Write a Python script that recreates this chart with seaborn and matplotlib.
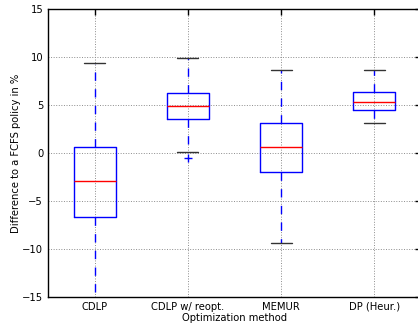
"""Box plot: difference to a FCFS policy per optimization method."""

import matplotlib

matplotlib.use("Agg")
import matplotlib.pyplot as plt
import pandas as pd
import seaborn as sns

METHODS = ["CDLP", "CDLP w/ reopt.", "MEMUR", "DP (Heur.)"]

# five-number summaries: low whisker, q1, median, q3, high whisker
CDLP = [-17.0, -6.7, -2.9, 0.6, 9.4]
CDLP_REOPT = [0.1, 3.5, 4.9, 6.3, 9.9]
MEMUR = [-9.4, -2.0, 0.6, 3.1, 8.6]
DP_HEUR = [3.1, 4.5, 5.3, 6.4, 8.6]

# outliers drawn as '+'
FLIER_METHODS = ["CDLP w/ reopt."]
FLIER_VALUES = [-0.47]


def main() -> None:
    sns.set_theme(style="white", rc={
        "axes.edgecolor": "black",
        "axes.linewidth": 1.0,
        "xtick.direction": "in",
        "ytick.direction": "in",
        "xtick.top": True,
        "ytick.right": True,
        "xtick.major.size": 4,
        "ytick.major.size": 4,
        "xtick.color": "black",
        "ytick.color": "black",
        "text.color": "black",
        "axes.labelcolor": "black",
    })
    plt.rcParams["font.family"] = ["DejaVu Sans"]
    plt.rcParams["font.size"] = 7.2

    df = pd.DataFrame({
        "method": [m for m, vals in zip(METHODS, [CDLP, CDLP_REOPT, MEMUR, DP_HEUR]) for _ in vals],
        "value": CDLP + CDLP_REOPT + MEMUR + DP_HEUR,
    })
    fliers = pd.DataFrame({"method": FLIER_METHODS, "value": FLIER_VALUES})

    fig = plt.figure(figsize=(4.18, 3.28), dpi=100)
    ax = fig.add_axes([48 / 418, 1 - 297 / 328, 373 / 418, 288 / 328])

    sns.boxplot(
        data=df, x="method", y="value", order=METHODS, ax=ax,
        whis=(0, 100), width=0.45, fill=False, color="blue", linewidth=1.0,
        showfliers=False,
        boxprops=dict(color="blue"),
        medianprops=dict(color="red"),
        whiskerprops=dict(color="blue", linestyle=(0, (6, 6))),
        capprops=dict(color="0.2"),
    )
    sns.scatterplot(
        data=fliers, x="method", y="value", ax=ax, marker="+",
        color="blue", s=30, linewidth=1.0, zorder=5,
    )

    ax.set_xlim(-0.5, 3.5)
    ax.set_ylim(-15, 15)
    ax.set_yticks(range(-15, 16, 5))
    ax.grid(True, linestyle=":", color="0.55", linewidth=0.7)
    ax.set_axisbelow(True)
    ax.tick_params(labelsize=7.2, width=1.0)
    ax.set_xlabel("Optimization method", fontsize=7.2, labelpad=1)
    ax.set_ylabel("Difference to a FCFS policy in %", fontsize=7.2, labelpad=1)

    fig.savefig("out.png", dpi=100)
    plt.close(fig)


if __name__ == "__main__":
    main()
